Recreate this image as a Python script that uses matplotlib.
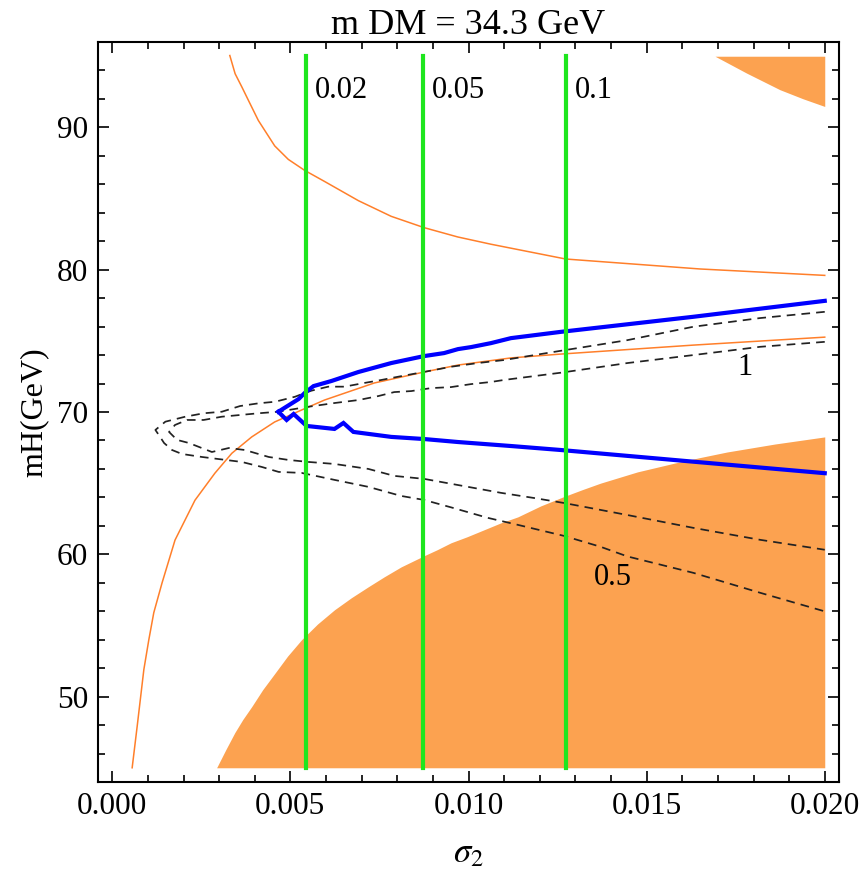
import matplotlib
matplotlib.use("Agg")
import matplotlib.pyplot as plt
from matplotlib.ticker import MultipleLocator, FixedLocator

plt.rcParams['font.family'] = ['Liberation Serif', 'DejaVu Serif']
plt.rcParams['mathtext.fontset'] = 'stix'

# ---------------- data ----------------
# excluded (orange) region, lower right: boundary y(x), filled down to 45
excl_x = [0.00293, 0.003189, 0.00344, 0.003664, 0.003916, 0.004224, 0.00456, 0.004923,
          0.005315, 0.005762, 0.006238, 0.006713, 0.007189, 0.007636, 0.008112, 0.008755,
          0.009119, 0.00951, 0.009958, 0.010434, 0.010909, 0.011385, 0.012028, 0.012671,
          0.013203, 0.013706, 0.014741, 0.015804, 0.016503, 0.017259, 0.018601, 0.02000]
excl_y = [45.0, 46.28, 47.47, 48.39, 49.3, 50.49, 51.62, 52.85,
          54.0, 55.1, 56.1, 56.95, 57.72, 58.42, 59.12, 59.9,
          60.32, 60.81, 61.23, 61.72, 62.21, 62.63, 63.4, 64.05,
          64.55, 65.0, 65.79, 66.42, 66.8, 67.19, 67.75, 68.25]

# excluded region, top right: boundary y(x), filled up to 95
top_x = [0.01692, 0.01781, 0.01874, 0.01939, 0.02000]
top_y = [95.0, 93.81, 92.65, 92.01, 91.47]

# thin orange curve, upper
orU_x = [0.00330, 0.003449, 0.00364, 0.003824, 0.00410, 0.00456, 0.004942, 0.00540,
         0.00596, 0.00691, 0.00783, 0.00876, 0.009698, 0.01063, 0.01273, 0.01650, 0.02000]
orU_y = [95.05, 93.77, 92.83, 91.89, 90.49, 88.7, 87.75, 86.98,
         86.2, 84.85, 83.75, 82.95, 82.3, 81.79, 80.75, 80.05, 79.6]

# thin orange curve, lower
orL_x = [0.000559, 0.000699, 0.000887, 0.001027, 0.001166, 0.001399, 0.001762, 0.002322,
         0.002881, 0.003357, 0.003916, 0.004559, 0.005315, 0.005958, 0.007357, 0.008755,
         0.009706, 0.011189, 0.012587, 0.016308, 0.02000]
orL_y = [45.0, 47.9, 51.9, 54.0, 55.9, 58.0, 61.0, 63.8,
         65.7, 67.1, 68.25, 69.3, 70.14, 70.84, 72.04, 72.81,
         73.3, 73.8, 74.07, 74.7, 75.26]

# blue contour, upper and lower branch
bluU_x = [0.004663, 0.005231, 0.005399, 0.00565, 0.006154, 0.006909, 0.007832, 0.008755,
          0.009315, 0.009706, 0.01007, 0.01063, 0.01119, 0.012587, 0.016308, 0.02000]
bluU_y = [70.02, 70.91, 71.33, 71.82, 72.18, 72.81, 73.44, 73.93,
          74.14, 74.42, 74.56, 74.84, 75.19, 75.63, 76.69, 77.81]
bluL_x = [0.004663, 0.004895, 0.005091, 0.005455, 0.006238, 0.00649, 0.006769, 0.007832,
          0.008755, 0.009706, 0.01119, 0.012587, 0.016308, 0.02000]
bluL_y = [70.02, 69.44, 69.86, 69.02, 68.81, 69.23, 68.6, 68.25,
          68.1, 67.89, 67.61, 67.33, 66.51, 65.7]

# dashed contour "0.5" (outer), traced upper-right -> tip -> lower-right
c05_x = [0.02000, 0.018182, 0.016308, 0.014462, 0.012587, 0.010993, 0.010266, 0.00951,
         0.009035, 0.008587, 0.008028, 0.007552, 0.007077, 0.006517, 0.006061, 0.005594,
         0.005399, 0.005127, 0.004568, 0.004103, 0.003589, 0.003077, 0.002565, 0.00205,
         0.001491, 0.001211,
         0.001343, 0.001455, 0.001678, 0.001958, 0.002517, 0.003636, 0.004196, 0.004671,
         0.005315, 0.006238, 0.007189, 0.008112, 0.008755, 0.00951, 0.010545, 0.011385,
         0.012671, 0.013706, 0.014462, 0.016308, 0.018182, 0.02000]
c05_y = [77.04, 76.6, 75.99, 75.05, 74.3, 73.65, 73.44, 73.18,
         72.95, 72.74, 72.48, 72.25, 72.04, 71.78, 71.78, 71.5,
         71.33, 71.07, 70.72, 70.61, 70.42, 70.02, 69.91, 69.67,
         69.32, 68.74,
         68.25, 67.82, 67.33, 67.05, 66.84, 66.49, 66.14, 65.79,
         65.72, 65.23, 64.74, 64.1, 63.82, 63.3, 62.56, 62.07,
         61.3, 60.53, 59.85, 58.7, 57.3, 55.99]

# dashed contour "1" (inner), traced upper-right -> tip -> lower-right
c1_x = [0.02000, 0.018182, 0.016308, 0.014462, 0.012587, 0.010993, 0.01063, 0.01007,
        0.00951, 0.008951, 0.008392, 0.007916, 0.007469, 0.006909, 0.006238, 0.005455,
        0.004951, 0.004663, 0.004103, 0.003589, 0.003077, 0.002565, 0.002098, 0.001762,
        0.001594,
        0.001818, 0.002154, 0.002797, 0.003273, 0.00372, 0.004392, 0.004951, 0.00551,
        0.006238, 0.007189, 0.007916, 0.008755, 0.009986, 0.010909, 0.011832, 0.012671,
        0.013706, 0.014462, 0.016308, 0.018182, 0.02000]
c1_y = [74.93, 74.58, 74.0, 73.44, 72.76, 72.25, 72.11, 71.96,
        71.75, 71.68, 71.47, 71.4, 71.12, 70.84, 70.63, 70.35,
        70.14, 70.02, 69.91, 69.79, 69.67, 69.44, 69.44, 69.09,
        68.6,
        68.04, 67.82, 67.19, 67.47, 67.33, 66.84, 66.63, 66.49,
        66.35, 66.0, 65.51, 65.3, 64.74, 64.32, 63.96, 63.61,
        63.12, 62.76, 61.86, 61.02, 60.32]

# green vertical contours
green_x = [0.005427, 0.008727, 0.012727]
green_labels = ["0.02", "0.05", "0.1"]

contour_labels = ["1", "0.5"]

x_ticks = [0.000, 0.005, 0.010, 0.015, 0.020]
x_ticklabels = ["0.000", "0.005", "0.010", "0.015", "0.020"]
y_ticks = [50, 60, 70, 80, 90]

# ---------------- drawing ----------------
fig = plt.figure(figsize=(8.63, 8.73), dpi=100)
ax = fig.add_axes([98/863, 1-782/873, (839-98)/863, (782-42)/873])

fill_col = '#FCA250'
line_or = '#FF7F2A'
green = '#1EE61E'

ax.fill_between(excl_x, 45, excl_y, color=fill_col, lw=0, zorder=1)
ax.fill_between(top_x, top_y, 95, color=fill_col, lw=0, zorder=1)

ax.plot(orU_x, orU_y, color=line_or, lw=1.1, zorder=3)
ax.plot(orL_x, orL_y, color=line_or, lw=1.1, zorder=3)

ax.plot(c05_x, c05_y, color='#222222', lw=1.25, ls=(0, (5, 3.5)), zorder=4)
ax.plot(c1_x, c1_y, color='#222222', lw=1.25, ls=(0, (5, 3.5)), zorder=4)

ax.plot(bluU_x, bluU_y, color='#0000FF', lw=3.0, zorder=5, solid_joinstyle='miter')
ax.plot(bluL_x, bluL_y, color='#0000FF', lw=3.0, zorder=5, solid_joinstyle='miter')

for gx, gl in zip(green_x, green_labels):
    ax.plot([gx, gx], [45, 95], color=green, lw=3.0, zorder=6)
    ax.text(gx + 0.00025, 92.6, gl, fontsize=22, ha='left', va='center', zorder=7)

ax.text(0.01776, 73.1, contour_labels[0], fontsize=22, ha='center', va='center', zorder=7)
ax.text(0.01404, 58.35, contour_labels[1], fontsize=22, ha='center', va='center', zorder=7)

ax.set_xlim(-0.0004, 0.0204)
ax.set_ylim(44, 96)

ax.xaxis.set_major_locator(FixedLocator(x_ticks))
ax.set_xticklabels(x_ticklabels)
ax.xaxis.set_minor_locator(MultipleLocator(0.001))
ax.yaxis.set_major_locator(FixedLocator(y_ticks))
ax.yaxis.set_minor_locator(MultipleLocator(2))

ax.tick_params(which='both', direction='in', top=True, right=True, width=1.2, colors='black')
ax.tick_params(which='major', length=8, labelsize=22.5, pad=7)
ax.tick_params(which='minor', length=5)
for s in ax.spines.values():
    s.set_linewidth(1.5)

ax.set_title("m DM = 34.3 GeV", fontsize=26, pad=6)
ax.set_ylabel("mH(GeV)", fontsize=23, labelpad=6)
ax.set_xlabel(r"$\sigma_2$", fontsize=25, labelpad=12)

fig.savefig("out.png", dpi=100)
